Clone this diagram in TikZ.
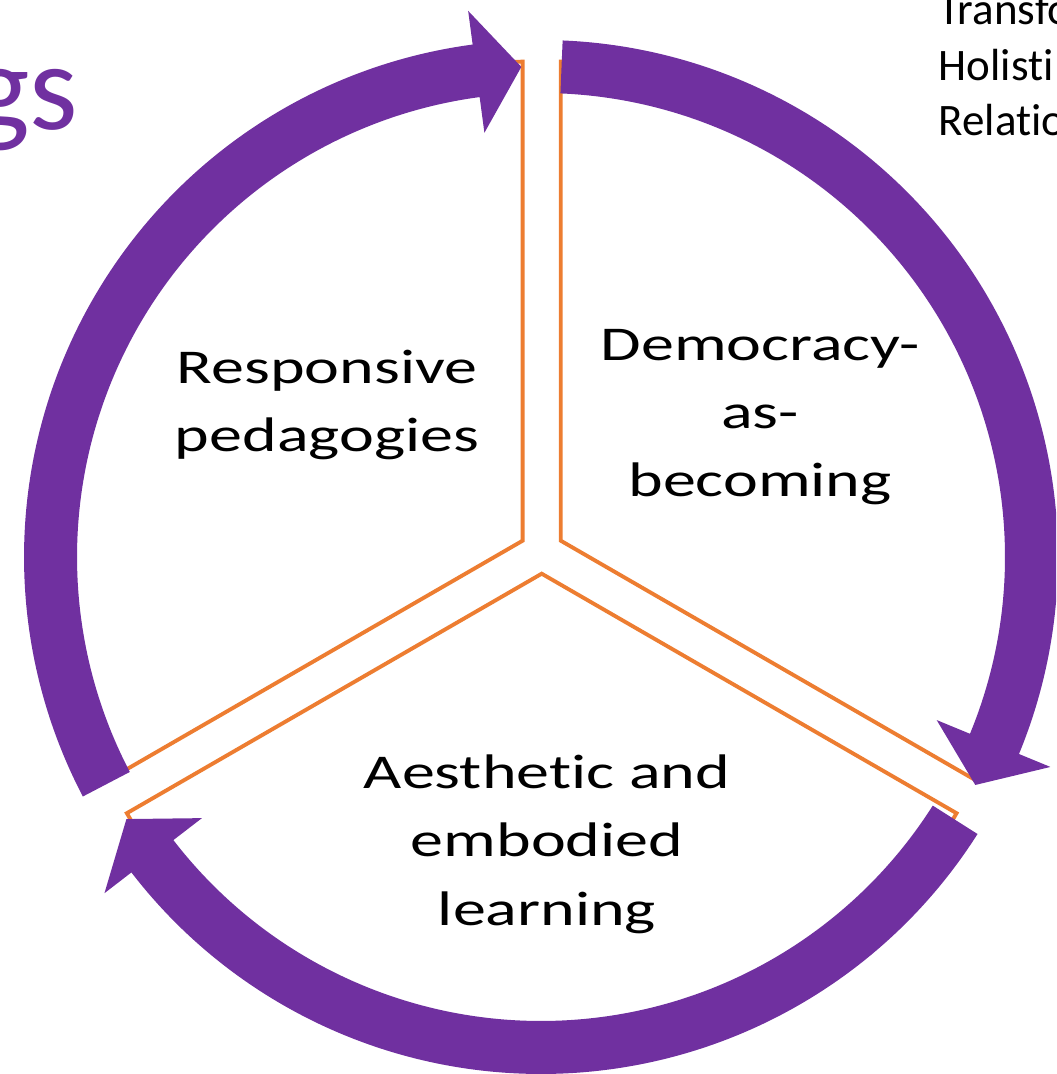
\documentclass[tikz,border=0pt]{standalone}
\usepackage{fontspec}
\setmainfont[RawFeature=-liga]{Carlito}
\newfontfamily\labelfont[FakeStretch=1.36,RawFeature=-liga]{Carlito}
\usetikzlibrary{calc}
\definecolor{cyclepurple}{HTML}{7030A0}
\definecolor{sectororange}{HTML}{ED7D31}

\begin{document}
\begin{tikzpicture}[x=0.01cm, y=0.01cm,
    sector/.style={draw=sectororange, line width=1.1pt, fill=white},
    cyclearrow/.style={fill=cyclepurple},
    pielabel/.style={font=\labelfont\fontsize{13.8pt}{19.35pt}\selectfont, align=center, anchor=base},
    sidetext/.style={font=\fontsize{12.8pt}{15.9pt}\selectfont, align=left, anchor=base west, inner sep=0pt},
    titletext/.style={font=\fontsize{35.3pt}{40pt}\selectfont, text=cyclepurple, anchor=base east, inner sep=0pt}]
			\useasboundingbox (-541,-517) rectangle (515,557);
			\clip (-541,-517) rectangle (515,557);
			% centre of the exploded pie
			\coordinate (S) at (0.7,5.3);
			\foreach \b in {150,30,-90}
    \draw[sector] ($(S)+(\b:22)$) -- ++(\b+60:479) arc[start angle=\b+60, delta angle=-120, radius=479] -- cycle;
			% three curved arrows round the ring
			\foreach \t in {87.6,-32.4,207.6} {
    \pgfmathsetmacro\tip{\t-115.3}
    \pgfmathsetmacro\hb{\tip+5.3}
    \fill[cyclearrow] (\t:517) arc[start angle=\t, end angle=\hb, radius=517] -- (\hb:551) -- (\tip:490.5) -- (\hb:428) -- (\hb:464) arc[start angle=\hb, end angle=\t, radius=464] -- cycle;
			}
			% base anchor sits on the last line
			\node[pielabel] (resp) at (-214,105) {Responsive\\pedagogies};
			\node[pielabel] (demo) at (219,60) {Democracy-\\as-\\becoming};
			\node[pielabel] (aest) at (6,-368) {Aesthetic and\\embodied\\learning};
			\node[sidetext] (side) at (397,421) {Transfo\\Holisti\\Relatio};
			\node[titletext] (title) at (-462,427) {gs};
		\end{tikzpicture}
\end{document}
